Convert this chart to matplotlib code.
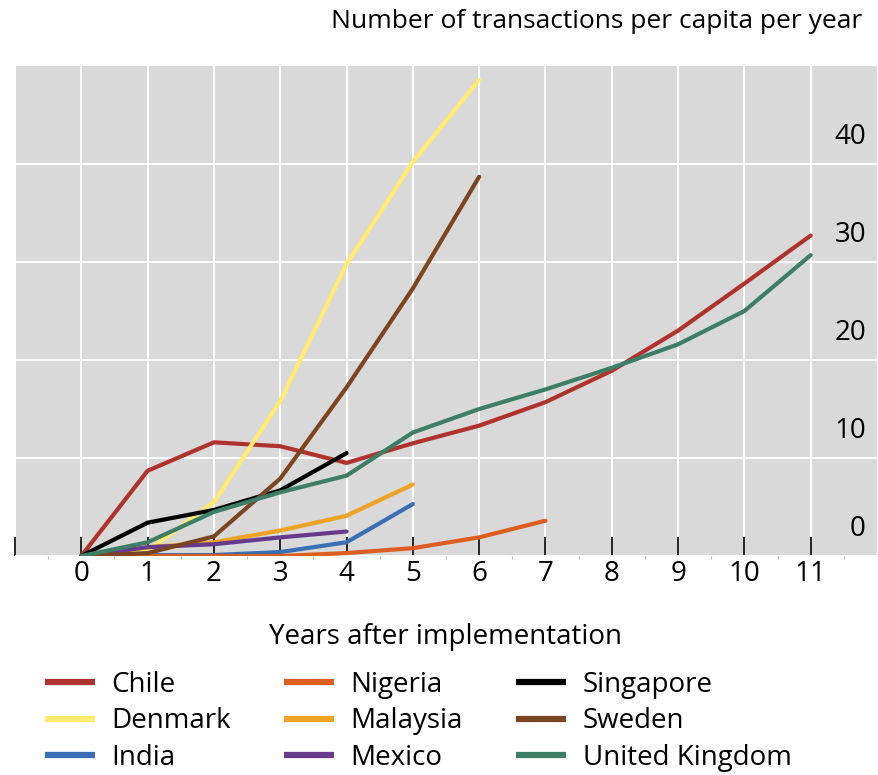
import matplotlib
matplotlib.use("Agg")
import matplotlib.pyplot as plt
import matplotlib.transforms as mtransforms

plt.rcParams['font.family'] = ['Open Sans', 'DejaVu Sans']

# years after implementation
years = list(range(0, 12))

chile = [0, 8.7, 11.6, 11.2, 9.5, 11.5, 13.3, 15.7, 18.9, 23.0, 27.8, 32.7]
denmark = [0, 0.5, 5.5, 15.8, 29.8, 40.2, 48.6]
india = [0, 0.1, 0.1, 0.4, 1.4, 5.3]
nigeria = [0, 0, 0, 0, 0.3, 0.8, 1.9, 3.6]
malaysia = [0, 0.9, 1.4, 2.6, 4.1, 7.3]
mexico = [0, 0.9, 1.2, 1.9, 2.5]
singapore = [0, 3.4, 4.7, 6.7, 10.5]
sweden = [0, 0.3, 2.0, 7.9, 17.2, 27.3, 38.7]
uk = [0, 1.4, 4.5, 6.5, 8.2, 12.6, 15.0, 17.0, 19.2, 21.6, 25.0, 30.7]

series = [
    ("Chile", chile, "#b0322f"),
    ("Denmark", denmark, "#ffec6e"),
    ("India", india, "#3a6fb4"),
    ("Nigeria", nigeria, "#dc5e22"),
    ("Malaysia", malaysia, "#eda423"),
    ("Mexico", mexico, "#663c8a"),
    ("Singapore", singapore, "#000000"),
    ("Sweden", sweden, "#7a4522"),
    ("United Kingdom", uk, "#3e7d66"),
]

y_ticks = [0, 10, 20, 30, 40]

fig = plt.figure(figsize=(8.79, 7.75), dpi=100)
ax = fig.add_axes([15 / 879, 219 / 775, 862 / 879, 490 / 775])
ax.set_facecolor("#d9d9d9")

for name, vals, col in series:
    ax.plot(years[:len(vals)], vals, color=col, lw=3.0, label=name,
            solid_capstyle='round', solid_joinstyle='round')

ax.set_xlim(-1, 12)
ax.set_ylim(0, 50)

# x axis: ticks pointing into the plot, labels for 0..11
ax.set_xticks(range(-1, 12))
ax.set_xticklabels([""] + [str(y) for y in years])
ax.set_xticks([x + 0.5 for x in range(-1, 12)], minor=True)
ax.tick_params(axis='x', which='major', direction='in', length=13.5, width=1.2,
               color='black', labelsize=20, pad=3)
ax.tick_params(axis='x', which='minor', direction='out', length=2, width=0.8,
               color='#bbbbbb')

# y axis: labels inside on the right, sitting above their gridlines
ax.set_yticks(y_ticks)
ax.yaxis.tick_right()
ax.tick_params(axis='y', length=0, labelsize=20, pad=0)
offset = mtransforms.ScaledTranslation(-0.11, 0.31, fig.dpi_scale_trans)
for lab in ax.get_yticklabels():
    lab.set_horizontalalignment('right')
    lab.set_transform(lab.get_transform() + offset)

ax.grid(True, color='white', lw=1.5)
ax.set_axisbelow(True)
for s in ax.spines.values():
    s.set_visible(False)

ax.set_xlabel("Years after implementation", fontsize=20, labelpad=25)
fig.text(862 / 879, 1 - 22 / 775, "Number of transactions per capita per year",
         ha='right', va='center', fontsize=19)

leg = fig.legend(loc='upper left', bbox_to_anchor=(45 / 879, 1 - 671 / 775), ncol=3,
                 frameon=False, fontsize=20, handlelength=1.8, handletextpad=0.6,
                 columnspacing=1.9, labelspacing=0.3, borderpad=0, borderaxespad=0)
for h in leg.get_lines():
    h.set_linewidth(4.5)
    h.set_solid_capstyle('butt')

fig.savefig("out.png", dpi=100)
